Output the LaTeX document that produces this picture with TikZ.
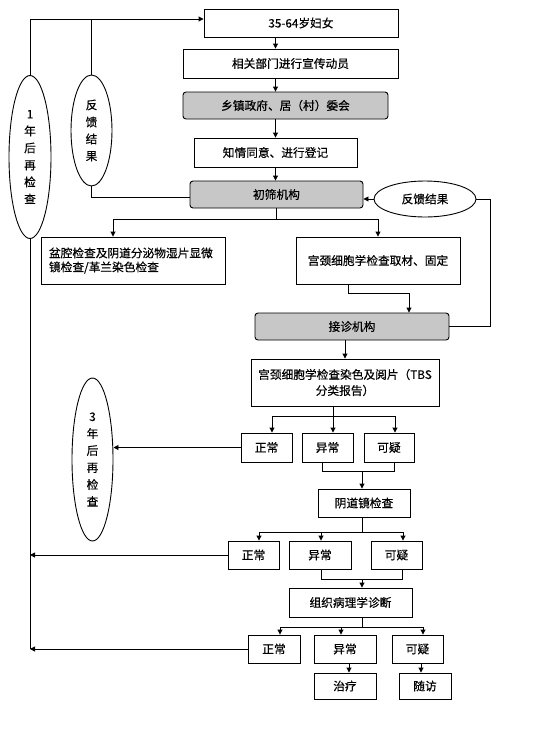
\documentclass[tikz,border=0pt]{standalone}
\usepackage{fontspec}
\setmainfont{Noto Sans CJK SC}[FakeBold=0.5]
\usetikzlibrary{arrows.meta,shapes.geometric,calc}

\tikzset{
  box/.style={draw, line width=0.9pt, minimum height=28pt, inner sep=2pt, align=center},
  graybox/.style={box, fill=black!22, rounded corners=3pt},
  oval/.style={draw, ellipse, line width=0.9pt, inner sep=0pt, align=center,
    font=\fontsize{11.7}{17}\selectfont},
  conn/.style={line width=0.9pt},
  arr/.style={conn, -{Triangle[length=5pt,width=5pt]}}
}

\begin{document}
\begin{tikzpicture}[x=1pt, y=-1pt, font=\fontsize{11.7}{16}\selectfont]
    \useasboundingbox (0,0) rectangle (554,732);
    % screening chain
    \node[box, minimum width=194pt] (women) at (301,23) {35-64岁妇女};
    \node[box, minimum width=215pt, minimum height=29pt] (promo) at (290.5,63.5) {相关部门进行宣传动员};
    \node[graybox, minimum width=205pt, minimum height=27pt] (town) at (285.5,105.5) {乡镇政府、居（村）委会};
    \node[box, minimum width=163pt, minimum height=29pt] (consent) at (275.5,152.5) {知情同意、进行登记};
    \node[graybox, minimum width=173pt, minimum height=27pt] (screen) at (276.5,194.5) {初筛机构};
    \node[oval, minimum width=102pt, minimum height=36pt] (fbright) at (425,199) {反馈结果};
    \node[oval, minimum width=42pt, minimum height=163pt] (oneyear) at (30,157) {1\\年\\后\\再\\检\\查};
    \node[oval, minimum width=41pt, minimum height=111pt] (fbleft) at (91.5,130.5) {反\\馈\\结\\果};
    \node[box, minimum height=47pt, text width=168pt, align=left, inner xsep=8pt,
      font=\fontsize{11.7}{14}\selectfont] (pelvic) at (133,260.5) {盆腔检查及阴道分泌物湿片显微\\镜检查/革兰染色检查};
    \node[box, minimum width=164pt, minimum height=47pt] (sample) at (378,260.5) {宫颈细胞学检查取材、固定};
    \node[graybox, minimum width=194pt, minimum height=27pt] (refer) at (352,326.5) {接诊机构};
    \node[box, minimum width=188pt, minimum height=47pt] (tbs) at (345,382.5) {宫颈细胞学检查染色及阅片（TBS\\分类报告）};
    % cytology results
    \node[box, minimum width=51pt, minimum height=29pt] (norm1) at (266.5,447.5) {正常};
    \node[box, minimum width=51pt, minimum height=29pt] (abn1) at (327.5,447.5) {异常};
    \node[box, minimum width=50pt, minimum height=29pt] (susp1) at (389,447.5) {可疑};
    \node[oval, minimum width=41pt, minimum height=163pt] (threeyear) at (92.5,459.5) {3\\年\\后\\再\\检\\查};
    \node[box, minimum width=92pt] (colpo) at (364,503) {阴道镜检查};
    % colposcopy results
    \node[box, minimum width=51pt] (norm2) at (253.5,555) {正常};
    \node[box, minimum width=62pt] (abn2) at (320,555) {异常};
    \node[box, minimum width=51pt] (susp2) at (396.5,555) {可疑};
    \node[box, minimum width=123pt, minimum height=29pt] (patho) at (350.5,602.5) {组织病理学诊断};
    % histology results
    \node[box, minimum width=52pt] (norm3) at (274,649) {正常};
    \node[box, minimum width=62pt] (abn3) at (345,649) {异常};
    \node[box, minimum width=51pt] (susp3) at (417.5,649) {可疑};
    \node[box, minimum width=62pt, minimum height=26pt] (treat) at (345,686) {治疗};
    \node[box, minimum width=52pt, minimum height=26pt] (follow) at (425,686) {随访};

    \draw[arr] (women.south -| consent) -- (promo.north -| consent);
    \draw[arr] (promo.south -| consent) -- (town.north -| consent);
    \draw[arr] (town.south -| consent) -- (consent.north);
    \draw[arr] (consent.south) -- (screen.north -| consent);

    % feedback loops
    \coordinate (top) at ([yshift=4pt]women.west);
    \draw[arr] (oneyear.north) |- (top);
    \draw[conn] (fbleft.north) -- (fbleft.north |- top);
    \draw[conn] (fbleft.south) |- ([yshift=-2.5pt]screen.west);
    \draw[arr] (fbright.west) -- (fbright.west -| screen.east);
    \coordinate (rightx) at (490,0);
    \draw[conn] (refer.east) -| (rightx |- fbright.east) -- (fbright.east);

    \coordinate (split1) at (276.5,219);
    \draw[conn] (screen.south) -- (split1);
    \draw[arr] (split1) -| ([xshift=-20pt]pelvic.north);
    \draw[arr] (split1) -| (sample.north);
    \draw[arr] ([xshift=-30pt]sample.south) -- ++(0,9) -| ([xshift=57pt]refer.north);
    \draw[arr] (refer.south -| tbs) -- (tbs.north);

    \coordinate (split2) at (333,416);
    \draw[conn] (tbs.south -| split2) -- (split2);
    \draw[arr] (split2) -| ([xshift=5.5pt]norm1.north);
    \draw[arr] (split2) -- ([xshift=5.5pt]abn1.north);
    \draw[arr] (split2) -| ([xshift=6pt]susp1.north);
    \draw[arr] (norm1.west) -- (norm1.west -| threeyear.east);
    \draw[conn] ([xshift=-5.5pt]abn1.south) -- ++(0,9) -| ([xshift=5pt]susp1.south);
    \coordinate (merge1) at (362,471);
    \draw[arr] (merge1) -- (merge1 |- colpo.north);

    \coordinate (split3) at (362,532);
    \draw[conn] (colpo.south -| split3) -- (split3);
    \draw[arr] (split3) -| ([xshift=5.5pt]norm2.north);
    \draw[arr] (split3) -| ([xshift=1pt]abn2.north);
    \draw[arr] (split3) -| ([xshift=6.5pt]susp2.north);
    \draw[arr] (norm2.west) -- (norm2.west -| oneyear.south);
    \draw[conn] ([xshift=1pt]abn2.south) -- ++(0,10) -| ([xshift=5.5pt]susp2.south);
    \coordinate (merge2) at (362,579);
    \draw[arr] (merge2) -- (merge2 |- patho.north);

    \coordinate (split4) at (362,627);
    \draw[conn] (patho.south -| split4) -- (split4);
    \draw[arr] (split4) -| ([xshift=6pt]norm3.north);
    \draw[arr] (split4) -| ([xshift=-4pt]abn3.north);
    \draw[arr] (split4) -| ([xshift=5.5pt]susp3.north);
    \draw[conn] (oneyear.south) -- (oneyear.south |- norm3.west);
    \draw[arr] (norm3.west) -- (norm3.west -| oneyear.south);
    \draw[arr] ([xshift=4pt]abn3.south) -- ([xshift=4pt]treat.north);
    \draw[arr] ([xshift=3.5pt]susp3.south) -- ([xshift=-4pt]follow.north);
\end{tikzpicture}
\end{document}
